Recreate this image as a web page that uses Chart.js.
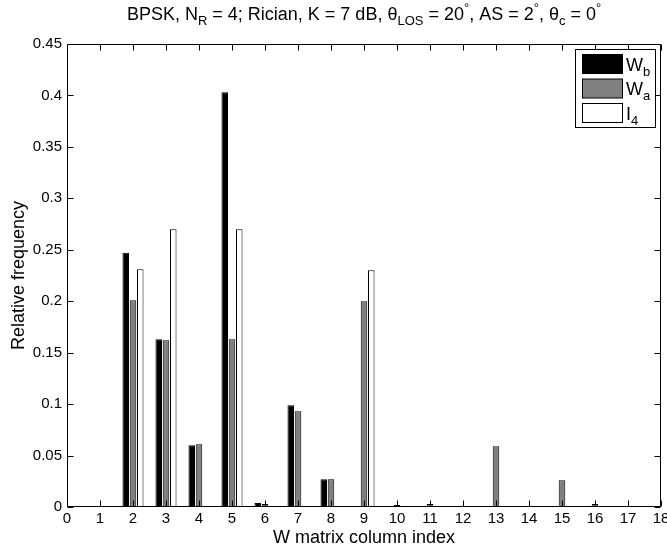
<!DOCTYPE html>
<html>
<head>
<meta charset="utf-8">
<script src="https://cdn.jsdelivr.net/npm/chart.js@4.4.1/dist/chart.umd.min.js"></script>
<style>
  html, body { margin: 0; padding: 0; background: #fff; }
  #wrap { width: 667px; height: 549px; }
</style>
</head>
<body>
<div id="wrap"><canvas id="chart"></canvas></div>
<script>
// column index of W (0..18) and the relative frequency of each choice
const columnIndex = ['0', '1', '2', '3', '4', '5', '6', '7', '8', '9', '10', '11', '12', '13', '14', '15', '16', '17', '18'];
const freqWb = [0, 0, 0.247, 0.163, 0.060, 0.403, 0.004, 0.099, 0.027, 0, 0, 0, 0, 0, 0, 0, 0, 0, 0];
const freqWa = [0, 0, 0.201, 0.162, 0.061, 0.163, 0.003, 0.093, 0.027, 0.200, 0.002, 0.003, 0, 0.059, 0, 0.026, 0.003, 0, 0];
const freqI4 = [0, 0, 0.231, 0.270, 0, 0.270, 0, 0, 0, 0.230, 0, 0, 0, 0, 0, 0, 0, 0, 0];

const yMax = 0.45;
const yStep = 0.05;

const FONT = '"Liberation Sans", Arial, Helvetica, sans-serif';

// text with sub/superscript pieces, e.g. [['W'], ['b', 'sub']]
function richWidth(ctx, parts, size) {
  let w = 0;
  parts.forEach(([t, mode]) => {
    ctx.font = (mode ? Math.round(size * 0.7) : size) + 'px ' + FONT;
    w += ctx.measureText(t).width;
  });
  return w;
}

function drawRich(ctx, parts, x, y, size) {
  ctx.textAlign = 'left';
  ctx.textBaseline = 'alphabetic';
  parts.forEach(([t, mode]) => {
    let dy = 0;
    if (mode === 'sub') dy = size * 0.3;
    if (mode === 'sup') dy = -size * 0.45;
    ctx.font = (mode ? Math.round(size * 0.7) : size) + 'px ' + FONT;
    ctx.fillText(t, x, y + dy);
    x += ctx.measureText(t).width;
  });
}

const titleParts = [
  ['BPSK, N'], ['R', 'sub'], [' = 4; Rician, K = 7 dB, \u03b8'], ['LOS', 'sub'],
  [' = 20'], ['\u00b0', 'sup'], [', AS = 2'], ['\u00b0', 'sup'],
  [', \u03b8'], ['c', 'sub'], [' = 0'], ['\u00b0', 'sup']
];

const legendItems = [
  { parts: [['W'], ['b', 'sub']], fill: '#000000' },
  { parts: [['W'], ['a', 'sub']], fill: '#808080' },
  { parts: [['I'], ['4', 'sub']], fill: '#ffffff' }
];

// boxed axes with inward ticks, the legend and the title
const matlabFrame = {
  id: 'matlabFrame',
  afterDatasetsDraw(chart) {
    const { ctx, chartArea: a, scales: { x, y } } = chart;
    const L = Math.round(a.left) + 0.5, R = Math.round(a.right) - 0.5;
    const T = Math.round(a.top) + 0.5, B = Math.round(a.bottom) - 0.5;
    const tl = 6;
    ctx.save();
    ctx.strokeStyle = '#000';
    ctx.lineWidth = 1;
    ctx.beginPath();
    x.ticks.forEach((t, i) => {
      const px = Math.round(x.getPixelForTick(i)) + 0.5;
      ctx.moveTo(px, B); ctx.lineTo(px, B - tl);
      ctx.moveTo(px, T); ctx.lineTo(px, T + tl);
    });
    y.ticks.forEach(t => {
      const py = Math.round(y.getPixelForValue(t.value)) + 0.5;
      ctx.moveTo(L, py); ctx.lineTo(L + tl, py);
      ctx.moveTo(R, py); ctx.lineTo(R - tl, py);
    });
    ctx.rect(L, T, R - L, B - T);
    ctx.stroke();

    // legend
    const lx = 575.5, ly = 49.5, lw = 80, lh = 78;
    ctx.fillStyle = '#fff';
    ctx.fillRect(lx, ly, lw, lh);
    ctx.strokeRect(lx, ly, lw, lh);
    legendItems.forEach((it, i) => {
      const sy = 54.5 + i * 24.5;
      ctx.fillStyle = it.fill;
      ctx.fillRect(582.5, sy, 40, 19);
      ctx.strokeRect(582.5, sy, 40, 19);
      ctx.fillStyle = '#000';
      drawRich(ctx, it.parts, 626, sy + 16, 18);
    });
    ctx.restore();
  },
  afterDraw(chart) {
    const { ctx, chartArea: a } = chart;
    ctx.save();
    ctx.fillStyle = '#000';
    const w = richWidth(ctx, titleParts, 18);
    drawRich(ctx, titleParts, (a.left + a.right) / 2 - w / 2, 20, 18);
    ctx.restore();
  }
};

const barStyle = { borderColor: '#000000', borderWidth: 1, borderSkipped: false };

new Chart(document.getElementById('chart'), {
  type: 'bar',
  data: {
    labels: columnIndex,
    datasets: [
      { label: 'Wb', data: freqWb, backgroundColor: '#000000', ...barStyle },
      { label: 'Wa', data: freqWa, backgroundColor: '#808080', ...barStyle },
      { label: 'I4', data: freqI4, backgroundColor: '#ffffff', ...barStyle }
    ]
  },
  options: {
    responsive: true,
    maintainAspectRatio: false,
    animation: false,
    categoryPercentage: 0.66,
    barPercentage: 0.9,
    layout: { padding: { top: 44, right: 6, bottom: 0, left: 0 } },
    plugins: {
      legend: { display: false },
      title: { display: false },
      tooltip: { enabled: false }
    },
    scales: {
      x: {
        offset: false,
        grid: { display: false, offset: false, drawTicks: false },
        border: { display: false },
        ticks: {
          autoSkip: false, maxRotation: 0, padding: 3, color: '#000',
          font: { family: FONT, size: 15 }
        },
        title: {
          display: true, text: 'W matrix column index', color: '#000',
          font: { family: FONT, size: 18 }, padding: { top: 0, bottom: 0 }
        },
        afterFit(scale) {
          scale.height = 42;
          scale.paddingLeft = 0;
          scale.paddingRight = 0;
        }
      },
      y: {
        min: 0, max: yMax,
        grid: { display: false, drawTicks: false },
        border: { display: false },
        ticks: {
          stepSize: yStep, padding: 5, color: '#000',
          font: { family: FONT, size: 15 },
          callback: v => String(Number(v.toFixed(2)))
        },
        title: {
          display: true, text: 'Relative frequency', color: '#000',
          font: { family: FONT, size: 18 }, padding: { top: 8, bottom: 0 }
        },
        afterFit(scale) {
          scale.width = 67;
          scale.paddingTop = 0;
          scale.paddingBottom = 0;
        }
      }
    }
  },
  plugins: [matlabFrame]
});
</script>
</body>
</html>
